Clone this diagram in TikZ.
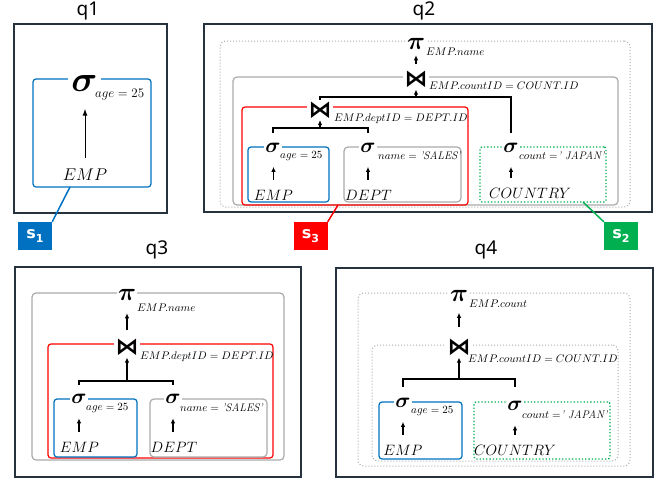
\RequirePackage{fix-cm}
\documentclass[tikz,border=0pt]{standalone}
\usepackage{fontspec}
\newfontfamily\tfont{Noto Sans}
\newfontfamily\lfont{DejaVu Sans}
\usetikzlibrary{arrows.meta}
\definecolor{dark}{RGB}{38,50,62}
\definecolor{blu}{RGB}{0,112,192}
\definecolor{rd}{RGB}{255,0,0}
\definecolor{grn}{RGB}{0,176,80}
\definecolor{gry}{RGB}{170,170,170}
\newcommand{\jsym}{⋈}
\newcommand{\eqq}{\mathrel{=}\mkern-5mu}
\begin{document}
\begin{tikzpicture}[x=1pt,y=-1pt,
  outer/.style={draw=dark, line width=1.4pt, inner sep=0},
  bbox/.style={draw=blu, line width=1.2pt, rounded corners=3pt, inner sep=0},
  rbox/.style={draw=rd, line width=1.2pt, rounded corners=3pt, inner sep=0},
  gbox/.style={draw=gry, line width=1.2pt, rounded corners=4pt, inner sep=0},
  dbox/.style={draw=gry, dotted, line width=1pt, rounded corners=6pt, inner sep=0},
  gdbox/.style={draw=grn, dotted, line width=1.3pt, rounded corners=2pt, inner sep=0},
  op/.style={fill=white, inner sep=1.5pt, font=\fontsize{21}{21}\selectfont\boldmath},
  pi/.style={fill=white, inner sep=1.5pt, font=\fontsize{25}{25}\selectfont\boldmath},
  jn/.style={fill=white, inner sep=1.5pt, font=\lfont\bfseries\fontsize{23}{23}\selectfont},
  sub/.style={anchor=west, inner sep=0, font=\fontsize{11}{11}\selectfont},
  rel/.style={inner sep=0, font=\fontsize{15}{15}\selectfont},
  ttl/.style={inner sep=0, font=\tfont\fontsize{19}{19}\selectfont},
  slab/.style={text=white, inner sep=0, minimum width=34pt, minimum height=28pt, font=\lfont\bfseries\fontsize{16}{16}\selectfont},
  arr/.style={-{Latex[length=5pt,width=4.5pt]}, line width=1.2pt},
  selarr/.style={arr, shorten <=10pt, shorten >=13pt},
  joinl/.style={line width=1.2pt},
  tag/.style={line width=1.5pt}
]
\useasboundingbox (0,0) rectangle (670,485);

% ---------------- q1
\node[ttl] (t1) at (88,11) {q1};
\node[outer, minimum width=153pt, minimum height=189pt] (o1) at (90.5,118.5) {};
\node[bbox, minimum width=118pt, minimum height=108pt] (bx1) at (92,133) {};
\node[op, inner sep=3pt, font=\fontsize{36}{36}\selectfont\boldmath] (s1) at (84.5,83.5) {$\sigma$};
\node[sub, font=\fontsize{13}{13}\selectfont] (s1l) at (95,95) {$age = 25$};
\node[rel, font=\fontsize{17}{17}\selectfont] (e1) at (85,174.5) {$EMP$};
\draw[arr, line width=1pt, -{Latex[length=7pt,width=5pt]}, shorten <=10.5pt, shorten >=14pt] (e1.north) -- (e1.north |- s1.south);
\node[slab, fill=blu] (S1) at (35,236) {s\raisebox{-4pt}{\fontsize{11}{11}\selectfont 1}};
\coordinate (c1) at (70,187);
\draw[tag, blu] (S1.north east) -- (c1);

% ---------------- q2
\node[ttl] (t2) at (424,11) {q2};
\node[outer, minimum width=448pt, minimum height=188pt] (o2) at (428,118) {};
\node[dbox, minimum width=410pt, minimum height=166pt] (d2) at (425,124) {};
\node[gbox, minimum width=385pt, minimum height=128pt] (g2) at (425.5,141) {};
\node[rbox, minimum width=226pt, minimum height=98pt] (r2) at (355,156) {};
\node[bbox, minimum width=81pt, minimum height=55pt] (b2) at (288.5,174.5) {};
\node[gbox, minimum width=117pt, minimum height=55pt] (g2b) at (402.5,174.5) {};
\node[gdbox, minimum width=126pt, minimum height=55pt] (gr2) at (543,174.5) {};

\node[pi] (p2) at (416,44) {$\pi$};
\node[sub] (p2l) at (426,52) {$EMP.name$};
\node[jn] (j2a) at (416,79.5) {\jsym};
\node[sub] (j2al) at (429,86) {$EMP.countID = COUNT.ID$};
\node[jn] (j2b) at (320,110) {\jsym};
\node[sub] (j2bl) at (334,118.5) {$EMP.deptID = DEPT.ID$};

\node[op] (s2a) at (273,147.5) {$\sigma$};
\node[sub] (s2al) at (280,156) {$age = 25$};
\node[rel] (e2a) at (273.5,195) {$EMP$};
\node[op] (s2b) at (368,147.5) {$\sigma$};
\node[sub] (s2bl) at (378,156) {$name = \textit{'SALES'}$};
\node[rel] (e2b) at (368.5,195) {$DEPT$};
\node[op] (s2c) at (511,147.5) {$\sigma$};
\node[sub] (s2cl) at (519,156) {$count \eqq\textit{' JAPAN'}$};
\node[rel] (e2c) at (530,193) {$COUNTRY$};

\draw[arr, shorten <=5pt, shorten >=4pt] (j2a.north) -- (j2a.north |- p2.south);
\coordinate (bar2a) at (416,97);
\draw[joinl, shorten >=8.5pt] (j2b.north) |- (bar2a) -| (s2c.north);
\draw[arr] (bar2a) -- (j2a.south);
\coordinate (bar2b) at (320,128);
\draw[joinl, shorten <=8.5pt, shorten >=8.5pt] (s2a.north) |- (bar2b) -| (s2b.north);
\draw[arr] (bar2b) -- (j2b.south);
\draw[selarr] (e2a.north) -- (e2a.north |- s2a.south);
\draw[selarr] (e2b.north -| s2b) -- (s2b.south);
\draw[selarr] (e2c.north -| s2c) -- (s2c.south);

\node[slab, fill=rd] (S3) at (310.5,236) {s\raisebox{-4pt}{\fontsize{11}{11}\selectfont 3}};
\coordinate (c3) at (338,205);
\draw[tag, rd] (S3.north east) -- (c3);
\node[slab, fill=grn] (S2) at (621,236) {s\raisebox{-4pt}{\fontsize{11}{11}\selectfont 2}};
\coordinate (c2) at (583,202);
\draw[tag, grn] (S2.north west) -- (c2);

% ---------------- q3
\node[ttl] (t3) at (157,250) {q3};
\node[outer, minimum width=286pt, minimum height=210pt] (o3) at (158,372) {};
\node[gbox, minimum width=252pt, minimum height=167pt] (g3) at (158,376.5) {};
\node[rbox, minimum width=225pt, minimum height=114pt] (r3) at (160.5,401) {};
\node[bbox, minimum width=83pt, minimum height=58pt] (b3) at (95.5,428) {};
\node[gbox, minimum width=117pt, minimum height=58pt] (g3b) at (208.5,428) {};

\node[pi] (p3) at (127,295) {$\pi$};
\node[sub] (p3l) at (137,307.5) {$EMP.name$};
\node[jn] (j3) at (127,347.5) {\jsym};
\node[sub] (j3l) at (140,356.5) {$EMP.deptID = DEPT.ID$};
\node[op] (s3a) at (79,399) {$\sigma$};
\node[sub] (s3al) at (86,408) {$age = 25$};
\node[rel] (e3a) at (79.5,447) {$EMP$};
\node[op] (s3b) at (173,399) {$\sigma$};
\node[sub] (s3bl) at (180,408) {$name = \textit{'SALES'}$};
\node[rel] (e3b) at (174,447) {$DEPT$};

\draw[arr, shorten <=7pt, shorten >=11pt] (j3.north) -- (j3.north |- p3.south);
\coordinate (bar3) at (127,381);
\draw[joinl, shorten <=8pt, shorten >=8pt] (s3a.north) |- (bar3) -| (s3b.north);
\draw[arr] (bar3) -- (j3.south);
\draw[selarr] (e3a.north -| s3a) -- (s3a.south);
\draw[selarr] (e3b.north -| s3b) -- (s3b.south);

% ---------------- q4
\node[ttl] (t4) at (486,250) {q4};
\node[outer, minimum width=317pt, minimum height=209pt] (o4) at (494.5,372.5) {};
\node[dbox, minimum width=272pt, minimum height=173pt] (d4a) at (494,379.5) {};
\node[dbox, minimum width=246pt, minimum height=116pt] (d4b) at (495,403) {};
\node[bbox, minimum width=83pt, minimum height=57pt] (b4) at (420.5,430.5) {};
\node[gdbox, minimum width=136pt, minimum height=57pt] (gr4) at (542,430.5) {};

\node[pi] (p4) at (459,295.5) {$\pi$};
\node[sub] (p4l) at (469,304) {$EMP.count$};
\node[jn] (j4) at (459,347.5) {\jsym};
\node[sub] (j4l) at (468,358.5) {$EMP.countID = COUNT.ID$};
\node[op] (s4a) at (403,402.5) {$\sigma$};
\node[sub] (s4al) at (411,411.5) {$age = 25$};
\node[rel] (e4a) at (403,450.5) {$EMP$};
\node[op] (s4b) at (515,406) {$\sigma$};
\node[sub] (s4bl) at (522,414.5) {$count \eqq\textit{' JAPAN'}$};
\node[rel] (e4b) at (515,450) {$COUNTRY$};

\draw[arr, shorten <=10pt, shorten >=10pt] (j4.north) -- (j4.north |- p4.south);
\coordinate (bar4) at (459,379);
\draw[joinl, shorten <=9.5pt, shorten >=13pt] (s4a.north) |- (bar4) -| (s4b.north);
\draw[arr] (bar4) -- (j4.south);
\draw[selarr] (e4a.north -| s4a) -- (s4a.south);
\draw[selarr] (e4b.north -| s4b) -- (s4b.south);
\end{tikzpicture}
\end{document}
